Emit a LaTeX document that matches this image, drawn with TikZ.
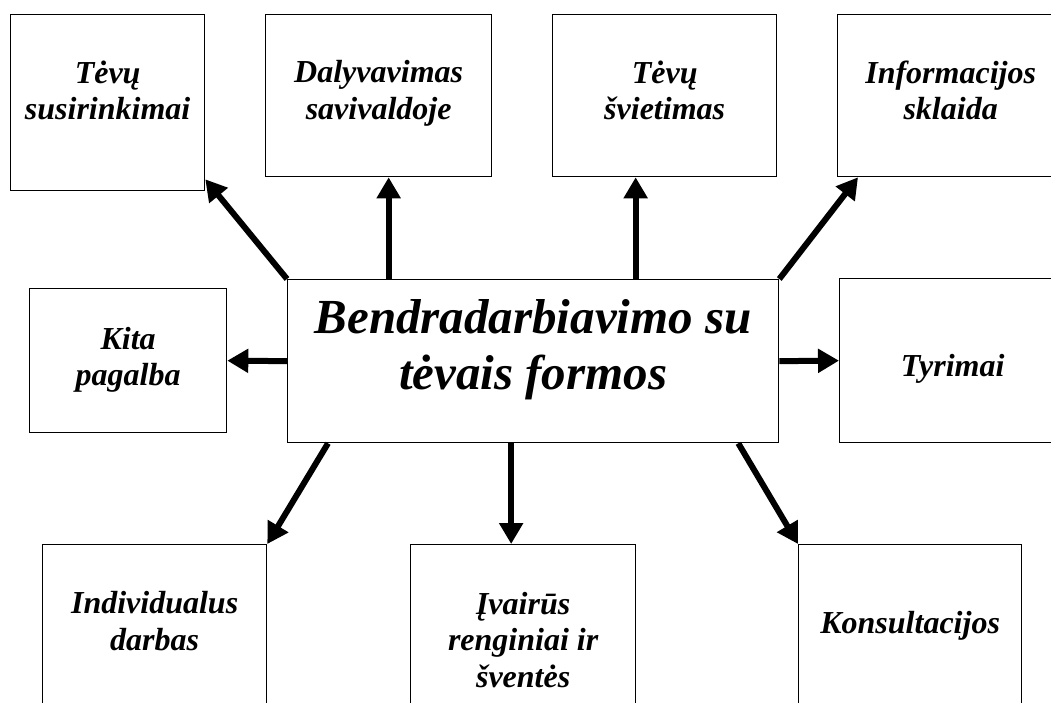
\documentclass[tikz,border=0pt]{standalone}
\usepackage{fontspec}
\setmainfont{Liberation Serif}
\usetikzlibrary{positioning}
\usetikzlibrary{arrows.meta}

\tikzset{
  box/.style={draw, line width=1.3pt, inner sep=0pt, anchor=north west},
  boxtext/.style={inner sep=0pt, align=center, font=\fontsize{32}{36.5}\selectfont\bfseries\itshape},
  thick arrow/.style={line width=6pt, -{Triangle[length=21pt, width=23pt]}}
}

\begin{document}
\begin{tikzpicture}[x=1pt, y=-1pt]
\path[use as bounding box, clip] (0,0) rectangle (1051,702);

\node (susirinkimai) [box, minimum width=194pt, minimum height=176pt] at (10,14) {};
\node (savivaldoje) [box, minimum width=226pt, minimum height=162pt] at (265,14) {};
\node (svietimas) [box, minimum width=224pt, minimum height=162pt] at (552,14) {};
\node (sklaida) [box, minimum width=226pt, minimum height=162pt] at (837,14) {};
\node (pagalba) [box, minimum width=197pt, minimum height=144pt] at (29,288) {};
\node (formos) [box, minimum width=491pt, minimum height=163pt] at (287,279) {};
\node (tyrimai) [box, minimum width=226pt, minimum height=164pt] at (839,278) {};
\node (individualus) [box, minimum width=224pt, minimum height=180pt] at (42,544) {};
\node (renginiai) [box, minimum width=225pt, minimum height=180pt] at (410,544) {};
\node (konsultacijos) [box, minimum width=223pt, minimum height=180pt] at (798,544) {};

\node (t-susirinkimai) [boxtext, below=46.5pt of susirinkimai.north] {Tėvų\\susirinkimai};
\node (t-savivaldoje) [boxtext, below=46.5pt of savivaldoje.north] {Dalyvavimas\\savivaldoje};
\node (t-svietimas) [boxtext, below=46.5pt of svietimas.north] {Tėvų\\švietimas};
\node (t-sklaida) [boxtext, below=46.5pt of sklaida.north] {Informacijos\\sklaida};
\node (t-pagalba) [boxtext, below=39pt of pagalba.north] {Kita\\pagalba};
\node (t-formos) [boxtext, font=\fontsize{49}{56}\selectfont\bfseries\itshape, below=20pt of formos.north] {Bendradarbiavimo su\\tėvais formos};
\node (t-tyrimai) [boxtext, below=76.5pt of tyrimai.north] {Tyrimai};
\node (t-individualus) [boxtext, below=47.5pt of individualus.north] {Individualus\\darbas};
\node (t-renginiai) [boxtext, below=48pt of renginiai.north] {Įvairūs\\renginiai ir\\šventės};
\node (t-konsultacijos) [boxtext, below=67.5pt of konsultacijos.north] {Konsultacijos};

\draw [thick arrow] (formos.north west) -- ([yshift=12pt]susirinkimai.south east);
\draw [thick arrow] ([xshift=10pt]savivaldoje.south |- formos.north) -- ([xshift=10pt]savivaldoje.south);
\draw [thick arrow] ([xshift=-29pt]svietimas.south |- formos.north) -- ([xshift=-29pt]svietimas.south);
\draw [thick arrow] (formos.north east) -- ([xshift=21pt]sklaida.south west);
\draw [thick arrow] (formos.west) -- (pagalba.east);
\draw [thick arrow] (formos.east) -- (tyrimai.west);
\draw [thick arrow] ([xshift=41pt]formos.south west) -- (individualus.north east);
\draw [thick arrow] ([xshift=-12pt]renginiai.north |- formos.south) -- ([xshift=-12pt]renginiai.north);
\draw [thick arrow] ([xshift=-41pt]formos.south east) -- (konsultacijos.north west);

\end{tikzpicture}
\end{document}
